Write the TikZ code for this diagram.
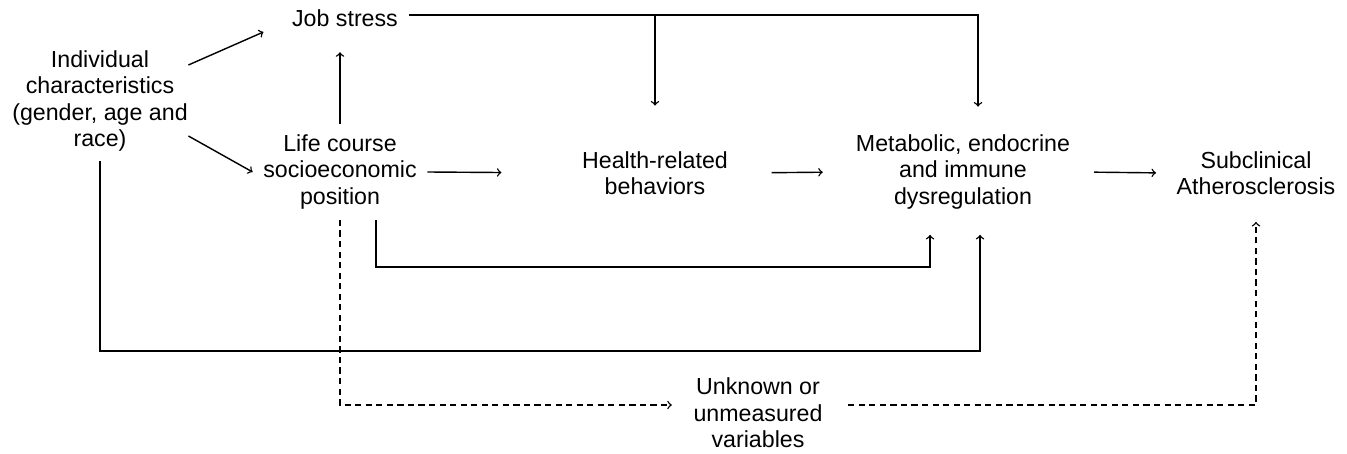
\documentclass[tikz,border=0pt]{standalone}
\usepackage{fontspec}
\setmainfont{Liberation Sans}
\begin{document}
\begin{tikzpicture}[line width=0.8pt,
    box/.style={align=center, inner sep=0.2cm, font=\fontsize{13.2}{15}\selectfont},
    dashline/.style={dash pattern=on 3.5pt off 2.5pt}]
                \useasboundingbox (0,0) rectangle (26.94,9.06);
                \node [box, inner sep=0pt] (ind) at (2.0,7.04) {Individual\\characteristics\\(gender, age and\\race)};
                \node [box, inner ysep=0.5cm] (job) at (6.9,8.70) {Job stress};
                \node [box] (life) at (6.8,5.62) {Life course\\socioeconomic\\position};
                \node [box] (hea) at (13.1,5.6) {Health-related\\behaviors};
                \node [box] (met) at (19.26,5.62) {Metabolic, endocrine\\and immune\\dysregulation};
                \node [box] (sub) at (25.12,5.6) {Subclinical\\Atherosclerosis};
                \node [box] (unk) at (15.16,0.8) {Unknown or\\unmeasured\\variables};
                \draw [->] ([yshift=0.72cm]ind.east) to ([xshift=-0.36cm,yshift=-0.28cm]job.west);
                \draw [->] ([yshift=-0.7cm]ind.east) to (life.west);
                \draw [->] (life.north) to (life.north |- job.south);
                \draw [->, shorten >=1.4cm] (life.east) to (hea.west);
                \draw [->, shorten <=0.66cm, shorten >=0.45cm] (hea.east) to (met.west);
                \draw [->, shorten <=0.27cm, shorten >=0.2cm] (met.east) to (sub.west);
                \draw [->, shorten >=0.35cm] ([yshift=0.06cm]job.east) -| ([xshift=0.3cm]met.north);
                \draw [->, shorten >=0.7cm] ([yshift=0.06cm]hea.north |- job.east) -- (hea.north);
                \draw [->, shorten >=0.3cm] ([xshift=0.72cm]life.south) -- ++(0,-0.945) -| ([xshift=-0.66cm]met.south);
                \draw [->, shorten >=0.3cm] ([yshift=-0.18cm]ind.south) -- ++(0,-3.8) -| ([xshift=0.34cm]met.south);
                \draw [->, dashline, shorten >=0.22cm] (life.south) |- ([yshift=0.16cm]unk.west);
                \draw [->, dashline, shorten >=0.33cm] ([yshift=0.16cm,xshift=0.3cm]unk.east) -| (sub.south);
            \end{tikzpicture}
\end{document}
